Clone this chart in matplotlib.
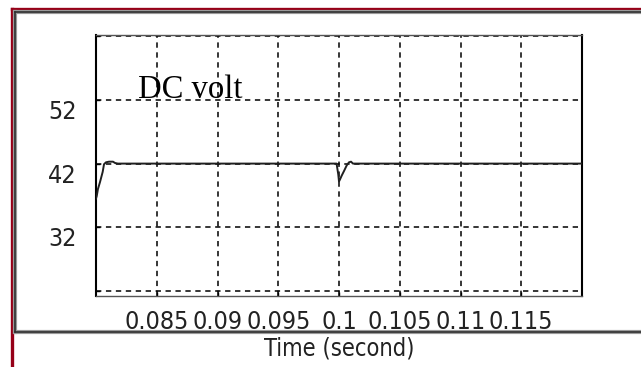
import matplotlib
matplotlib.use('Agg')
from matplotlib import pyplot as plt
from matplotlib.lines import Line2D

# DC link voltage trace
time_s = [0.08, 0.08006, 0.08016, 0.08033, 0.08055, 0.08066, 0.08082, 0.08107,
          0.0814, 0.08156, 0.0818, 0.0998, 0.09994, 0.1, 0.10008, 0.10022,
          0.10043, 0.10063, 0.10082, 0.10099, 0.10115, 0.12]
volts = [36.5, 36.9, 38.0, 39.1, 40.7, 41.9, 42.2, 42.3,
         42.3, 42.1, 42.0, 42.0, 40.3, 39.2, 39.5, 40.1,
         40.9, 41.7, 42.2, 42.3, 42.0, 42.0]

x_ticks = [0.085, 0.09, 0.095, 0.1, 0.105, 0.11, 0.115]
x_labels = ['0.085', '0.09', '0.095', '0.1', '0.105', '0.11', '0.115']
y_grid = [22, 32, 42, 52, 62]
y_labels = ['', '32', '42', '52', '']

W, H = 641, 367
fig = plt.figure(figsize=(W / 100, H / 100), dpi=100)
fig.patch.set_facecolor('white')

ax = fig.add_axes([96 / W, 1 - 296 / H, 486 / W, 261 / H])
ax.plot(time_s, volts, color='#202020', lw=1.4, zorder=3)
ax.set_xlim(0.08, 0.12)
ax.set_ylim(21.2, 62.2)

ax.set_xticks(x_ticks)
ax.set_xticklabels(x_labels)
ax.set_yticks(y_grid)
ax.set_yticklabels(y_labels)
ax.grid(True, color='black', linestyle=(0, (3.5, 3)), lw=1.1)
ax.tick_params(direction='in', length=3, width=1, colors='black',
               labelsize=18, labelcolor='#222222')
ax.tick_params(axis='x', pad=10)
ax.tick_params(axis='y', pad=14)
for lab in ax.get_xticklabels() + ax.get_yticklabels():
    lab.set_fontfamily('DejaVu Sans')
    lab.set_fontstretch('condensed')
for lab in ax.get_yticklabels():
    lab.set_verticalalignment('top')

for side in ['left', 'right']:
    ax.spines[side].set_linewidth(1.5)
    ax.spines[side].set_color('black')
for side in ['top', 'bottom']:
    ax.spines[side].set_linewidth(1.0)
    ax.spines[side].set_color('#555555')

ax.set_xlabel('Time (second)', fontsize=17, fontfamily='DejaVu Sans',
              fontstretch='condensed', color='#222222', labelpad=2)
ax.text(0.08346, 52.35, 'DC volt', fontsize=23.5, fontfamily='Liberation Serif',
        ha='left', va='baseline', color='black')

# window frame: red outer border and grey inner box
def px_line(x0, y0, x1, y1, **kw):
    fig.add_artist(Line2D([x0 / W, x1 / W], [1 - y0 / H, 1 - y1 / H],
                          transform=fig.transFigure, **kw))

red = '#960018'
px_line(12, 9, 12, H, color=red, lw=2.4)
px_line(12, 9, W, 9, color=red, lw=2.4)
for c, w in [('#9a9a9a', 3.0), ('#303030', 1.2)]:
    px_line(15, 12, 15, 332, color=c, lw=w)
    px_line(15, 12, W, 12, color=c, lw=w)
    px_line(15, 332, W, 332, color=c, lw=w)

fig.savefig('out.png', dpi=100)
